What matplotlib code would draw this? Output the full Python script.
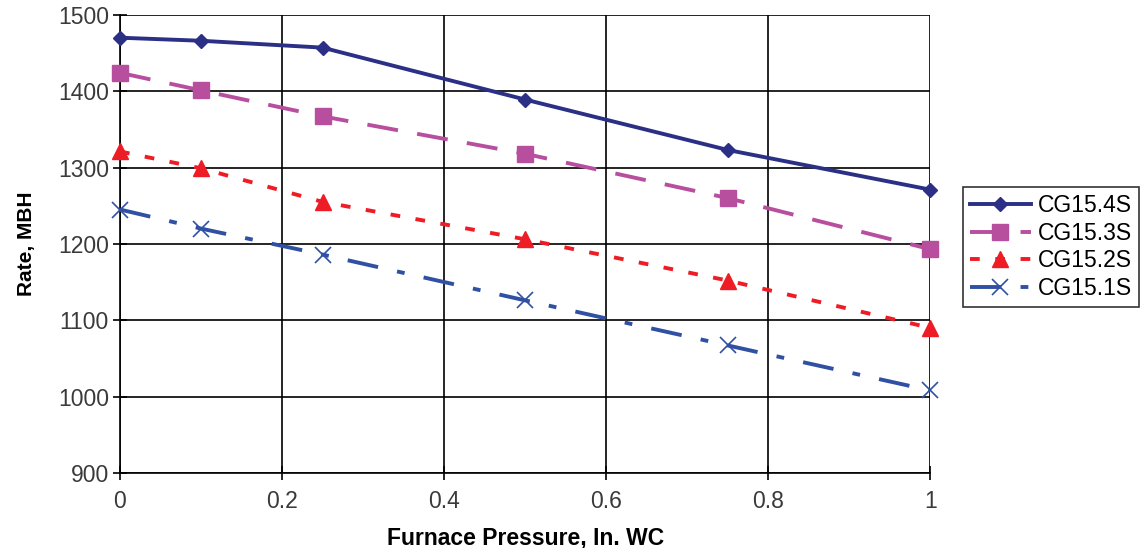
import matplotlib
matplotlib.use("Agg")
import matplotlib.pyplot as plt

plt.rcParams['font.family'] = ['Liberation Sans', 'DejaVu Sans']

pressure = [0, 0.1, 0.25, 0.5, 0.75, 1.0]
cg154s = [1470, 1466, 1457, 1389, 1323, 1271]
cg153s = [1424, 1401, 1367, 1318, 1260, 1193]
cg152s = [1321, 1299, 1255, 1206, 1152, 1090]
cg151s = [1245, 1220, 1186, 1126, 1067, 1008]

fig = plt.figure(figsize=(11.46, 5.48), dpi=100)
ax = fig.add_axes([0.1047, 0.137, 0.707, 0.836])

ax.plot(pressure, cg154s, color='#2b2f86', linestyle='-', linewidth=2.8,
        marker='D', markersize=7, label='CG15.4S', clip_on=False, zorder=5)
ax.plot(pressure, cg153s, color='#b84f9e', linestyle=(0, (8, 5)), linewidth=2.8,
        marker='s', markersize=11, label='CG15.3S', clip_on=False, zorder=5)
ax.plot(pressure, cg152s, color='#ee1c25', linestyle=(0, (2.5, 4)), linewidth=2.8,
        marker='^', markersize=12, label='CG15.2S', clip_on=False, zorder=5)
ax.plot(pressure, cg151s, color='#3050a4', linestyle=(0, (8, 5, 2, 5)), linewidth=2.8,
        marker='x', markersize=11, markeredgewidth=1.2, label='CG15.1S', clip_on=False, zorder=5)

ax.set_xlim(0, 1)
ax.set_ylim(900, 1500)
ax.set_xticks([0, 0.2, 0.4, 0.6, 0.8, 1])
ax.set_xticklabels(['0', '0.2', '0.4', '0.6', '0.8', '1'])
ax.set_yticks(range(900, 1501, 100))
ax.grid(True, color='black', linewidth=1.2)
ax.tick_params(direction='inout', length=10, width=1.2, labelsize=16.5, labelcolor='#3a3a3a', pad=7)
ax.tick_params(axis='y', pad=3)
for s in ['top', 'right']:
    ax.spines[s].set_visible(False)
for s in ['left', 'bottom']:
    ax.spines[s].set_linewidth(1.2)

ax.set_xlabel('Furnace Pressure, In. WC', fontsize=16.5, fontweight='bold', labelpad=10)
ax.set_ylabel('Rate, MBH', fontsize=15, fontweight='bold', labelpad=16)

leg = fig.legend(loc='upper left', bbox_to_anchor=(0.840, 0.658), fontsize=16.5,
                 frameon=True, fancybox=False, edgecolor='black', handlelength=2.7,
                 borderpad=0.3, labelspacing=0.2, handletextpad=0.3, borderaxespad=0)
leg.get_frame().set_linewidth(1.2)

fig.savefig('out.png', dpi=100)
